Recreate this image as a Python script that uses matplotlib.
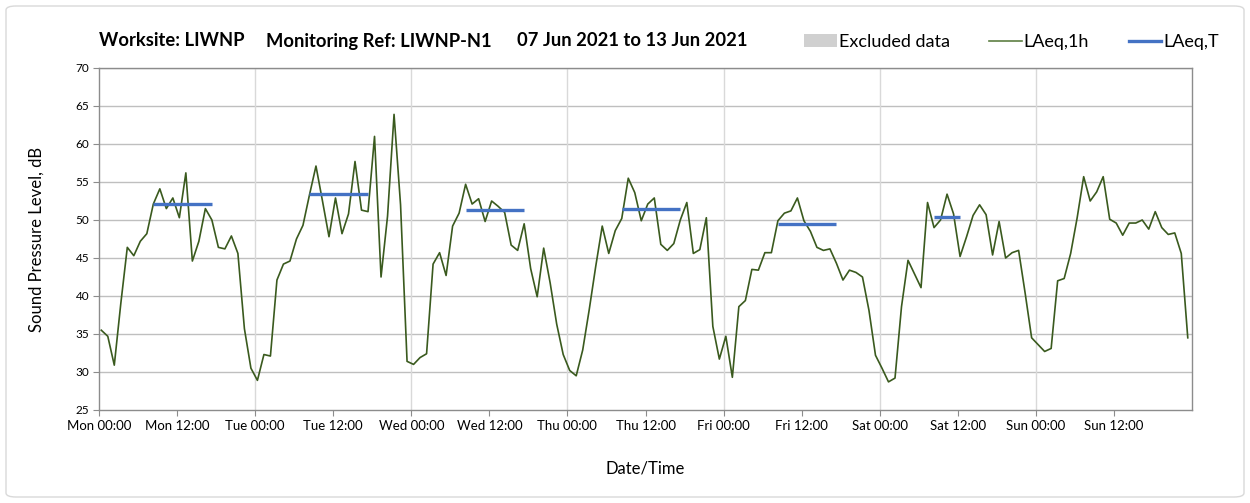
import matplotlib
matplotlib.use("Agg")
import matplotlib.pyplot as plt
import numpy as np
from matplotlib.patches import FancyBboxPatch
from matplotlib.lines import Line2D
from matplotlib.patches import Patch

# ---- data ----
laeq_1h = [
    35.5, 34.7, 30.9, 39.0, 46.4, 45.3, 47.2, 48.2, 52.1, 54.1, 51.5, 52.9,
    50.3, 56.2, 44.6, 47.2, 51.5, 50.0, 46.4, 46.2, 47.9, 45.6, 35.7, 30.5,
    28.9, 32.3, 32.1, 42.1, 44.2, 44.6, 47.5, 49.3, 53.3, 57.1, 52.5, 47.8,
    52.9, 48.2, 50.8, 57.7, 51.3, 51.1, 61.0, 42.5, 50.5, 63.9, 52.0, 31.4,
    31.0, 31.9, 32.4, 44.2, 45.7, 42.7, 49.2, 50.9, 54.7, 52.1, 52.8, 49.8,
    52.5, 51.8, 51.0, 46.7, 46.0, 49.5, 43.6, 39.9, 46.3, 41.7, 36.3, 32.3,
    30.2, 29.5, 32.9, 38.2, 43.9, 49.2, 45.6, 48.6, 50.2, 55.5, 53.6, 49.9,
    52.1, 52.9, 46.8, 46.0, 46.9, 50.0, 52.3, 45.6, 46.1, 50.3, 36.0, 31.7,
    34.7, 29.3, 38.6, 39.4, 43.5, 43.4, 45.7, 45.7, 49.9, 50.9, 51.2, 52.9,
    49.9, 48.5, 46.4, 46.0, 46.2, 44.3, 42.1, 43.4, 43.1, 42.5, 38.1, 32.2,
    30.5, 28.7, 29.2, 38.6, 44.7, 42.9, 41.1, 52.3, 49.0, 50.0, 53.4, 50.8,
    45.2, 47.8, 50.6, 52.0, 50.7, 45.4, 49.8, 45.0, 45.7, 46.0, 40.4, 34.5,
    33.6, 32.7, 33.1, 42.0, 42.3, 45.6, 50.3, 55.7, 52.5, 53.7, 55.7, 50.1,
    49.6, 48.0, 49.6, 49.6, 50.0, 48.8, 51.1, 49.0, 48.1, 48.3, 45.6, 34.5,
]
hours = np.arange(len(laeq_1h)) + 0.35

laeqT_start = [8, 32, 56, 80, 104, 128]
laeqT_end = [17, 41, 65, 89, 113, 132]
laeqT_values = [52.1, 53.4, 51.35, 51.4, 49.5, 50.35]

days = ["Mon", "Tue", "Wed", "Thu", "Fri", "Sat", "Sun"]
tick_labels = [f"{d} {t}" for d in days for t in ("00:00", "12:00")]
yticks = list(range(25, 71, 5))

title_parts = ["Worksite: LIWNP", "Monitoring Ref: LIWNP-N1",
               "07 Jun 2021 to 13 Jun 2021"]

# ---- style ----
plt.rcParams['font.family'] = ['Lato', 'DejaVu Sans']

fig = plt.figure(figsize=(12.5, 5.03), dpi=100)
ax = fig.add_axes([99/1250, 1 - 410/503, (1192-99)/1250, (410-68)/503])

green = '#3A5A1E'
blue = '#4472C4'

ax.plot(hours, laeq_1h, color=green, lw=1.2, zorder=3)
for s, e, v in zip(laeqT_start, laeqT_end, laeqT_values):
    ax.plot([s + 0.35, e + 0.35], [v, v], color=blue, lw=2.4, zorder=4,
            solid_capstyle='butt')

ax.set_xlim(0, 168)
ax.set_ylim(25, 70)
ax.set_yticks(yticks)
ax.set_yticklabels([str(y) for y in yticks], fontsize=8.5)
ax.set_xticks(np.arange(0, 168, 12))
ax.set_xticklabels(tick_labels, fontsize=9.5)

for y in yticks[1:]:
    ax.axhline(y, color='#BFBFBF', lw=1, zorder=1)
for d in range(24, 168, 24):
    ax.axvline(d, color='#D9D9D9', lw=1, zorder=1)

for sp in ax.spines.values():
    sp.set_color('#8C8C8C')
    sp.set_linewidth(1)
ax.tick_params(axis='both', direction='out', color='#8C8C8C', length=4,
               colors='black')
ax.tick_params(axis='x', pad=3)
ax.tick_params(axis='y', pad=3)

ax.set_ylabel("Sound Pressure Level, dB", fontsize=12, labelpad=22)
ax.set_xlabel("Date/Time", fontsize=12, labelpad=21)

for xpos, txt in zip([99, 266, 517], title_parts):
    fig.text(xpos/1250, 1 - 41/503, txt, fontsize=13.2, fontweight='bold',
             va='center', ha='left')

handles = [Patch(facecolor='#D0D0D0', edgecolor='none'),
           Line2D([], [], color='#5E7F43', lw=1.2),
           Line2D([], [], color=blue, lw=2.4)]
leg = fig.legend(handles, ["Excluded data", "LAeq,1h", "LAeq,T"],
                 loc='center left', bbox_to_anchor=(797/1250, 1 - 42/503),
                 ncol=3, frameon=False, fontsize=13, handlelength=1.8,
                 handletextpad=0.1, columnspacing=2.2, borderaxespad=0)

border = FancyBboxPatch((6/1250, 6/503), 1 - 12/1250, 1 - 12/503,
                        boxstyle="round,pad=0,rounding_size=0.008",
                        transform=fig.transFigure, fill=False,
                        edgecolor='#D9D9D9', lw=1)
fig.patches.append(border)

fig.savefig("out.png", dpi=100)
